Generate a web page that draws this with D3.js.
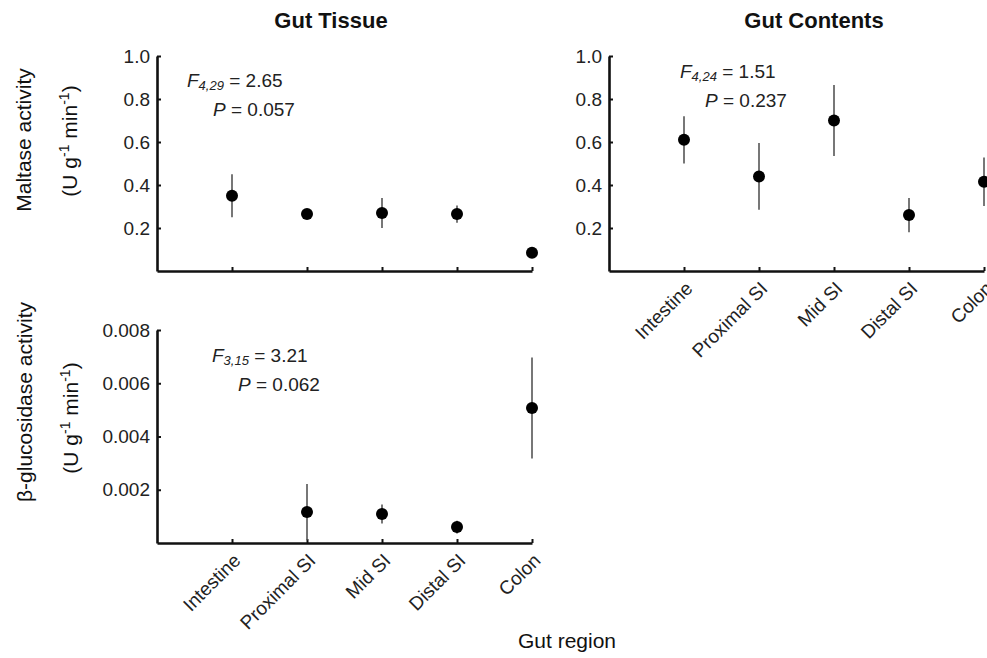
<!DOCTYPE html>
<html>
<head>
<meta charset="utf-8">
<script src="https://cdn.jsdelivr.net/npm/d3@7"></script>
<style>
  html, body { margin: 0; padding: 0; background: #fff; }
  svg { display: block; font-family: "Liberation Sans", Arial, sans-serif; }
</style>
</head>
<body>
<div id="chart"></div>
<script>
// gut regions along the x axis
const regions = ["Intestine", "Proximal SI", "Mid SI", "Distal SI", "Colon"];

// maltase activity (U g-1 min-1), gut tissue
const maltaseTissueMean = [0.35, 0.265, 0.27, 0.265, 0.085];
const maltaseTissueErr  = [0.10, 0.01, 0.07, 0.04, 0.0];

// maltase activity, gut contents
const maltaseContentsMean = [0.61, 0.44, 0.70, 0.26, 0.415];
const maltaseContentsErr  = [0.11, 0.155, 0.165, 0.08, 0.113];

// beta-glucosidase activity, gut tissue (no value for intestine)
const glucTissueMean = [null, 0.00116, 0.00109, 0.0006, 0.00507];
const glucTissueErr  = [null, 0.00106, 0.00036, 0.00024, 0.0019];

const maltaseTicks = [0.2, 0.4, 0.6, 0.8, 1.0];
const glucTicks = [0.002, 0.004, 0.006, 0.008];

const width = 987, height = 658;
const svg = d3.select("#chart").append("svg")
  .attr("width", width).attr("height", height);

const panels = [
  { left: 157, right: 532, top: 56, bottom: 271, ymax: 1.0, ticks: maltaseTicks, fmt: d3.format(".1f"),
    mean: maltaseTissueMean, err: maltaseTissueErr, catLabels: false,
    stat: { x: 187, y: 87, sub: "4,29", f: "2.65", p: "0.057", px: 213 } },
  { left: 609, right: 984, top: 56, bottom: 271, ymax: 1.0, ticks: maltaseTicks, fmt: d3.format(".1f"),
    mean: maltaseContentsMean, err: maltaseContentsErr, catLabels: true,
    stat: { x: 680, y: 78, sub: "4,24", f: "1.51", p: "0.237", px: 705 } },
  { left: 157, right: 532, top: 330, bottom: 543, ymax: 0.008, ticks: glucTicks, fmt: d3.format(".3f"),
    mean: glucTissueMean, err: glucTissueErr, catLabels: true,
    stat: { x: 212, y: 362, sub: "3,15", f: "3.21", p: "0.062", px: 238 } }
];

panels.forEach(p => {
  const x = d3.scaleLinear().domain([0, regions.length]).range([p.left, p.right]);
  const y = d3.scaleLinear().domain([0, p.ymax]).range([p.bottom, p.top]);
  const g = svg.append("g");

  const yAxis = g.append("g")
    .attr("transform", `translate(${p.left},0)`)
    .call(d3.axisLeft(y).tickValues(p.ticks).tickFormat(p.fmt).tickSize(-4).tickSizeOuter(0).tickPadding(7));
  const xAxis = g.append("g")
    .attr("transform", `translate(0,${p.bottom})`)
    .call(d3.axisBottom(x).tickValues(d3.range(1, regions.length + 1)).tickFormat("").tickSize(-4).tickSizeOuter(0));

  [yAxis, xAxis].forEach(a => {
    a.select(".domain").attr("stroke", "#111").attr("stroke-width", 2.6);
    a.selectAll(".tick line").attr("stroke", "#111").attr("stroke-width", 2);
  });
  yAxis.selectAll(".tick text")
    .attr("fill", "#222").attr("font-size", 19).attr("font-family", "Liberation Sans, Arial, sans-serif");

  if (p.catLabels) {
    g.selectAll(".cat").data(regions).enter().append("text")
      .attr("class", "cat")
      .attr("transform", (d, i) => `translate(${x(i + 1) + 5},${p.bottom + 14}) rotate(-45)`)
      .attr("text-anchor", "end")
      .attr("dy", "0.35em")
      .attr("font-size", 19)
      .attr("fill", "#222")
      .text(d => d);
  }

  const pts = p.mean.map((m, i) => ({ m, e: p.err[i], i })).filter(d => d.m !== null);

  g.selectAll(".err").data(pts).enter().append("line")
    .attr("x1", d => x(d.i + 1)).attr("x2", d => x(d.i + 1))
    .attr("y1", d => y(Math.max(0, d.m - d.e))).attr("y2", d => y(d.m + d.e))
    .attr("stroke", "#555").attr("stroke-width", 1.6);

  g.selectAll(".dot").data(pts).enter().append("circle")
    .attr("cx", d => x(d.i + 1)).attr("cy", d => y(d.m))
    .attr("r", 6).attr("fill", "#000");

  const s = p.stat;
  const t1 = g.append("text").attr("x", s.x).attr("y", s.y).attr("font-size", 19).attr("fill", "#222");
  t1.append("tspan").attr("font-style", "italic").text("F");
  t1.append("tspan").attr("font-style", "italic").attr("font-size", 13).attr("dy", 3).text(s.sub);
  t1.append("tspan").attr("dy", -3).text(" = " + s.f);
  const t2 = g.append("text").attr("x", s.px).attr("y", s.y + 29).attr("font-size", 19).attr("fill", "#222");
  t2.append("tspan").attr("font-style", "italic").text("P");
  t2.append("tspan").text(" = " + s.p);
});

// panel titles
svg.append("text").attr("x", 331).attr("y", 28).attr("text-anchor", "middle")
  .attr("font-size", 22).attr("font-weight", "bold").attr("fill", "#111").text("Gut Tissue");
svg.append("text").attr("x", 814).attr("y", 28).attr("text-anchor", "middle")
  .attr("font-size", 22).attr("font-weight", "bold").attr("fill", "#111").text("Gut Contents");

// y axis titles
function unitLabel(cx, cy) {
  const t = svg.append("text")
    .attr("transform", `translate(${cx},${cy}) rotate(-90)`)
    .attr("text-anchor", "middle").attr("font-size", 21).attr("fill", "#111");
  t.append("tspan").text("(U g");
  t.append("tspan").attr("font-size", 14).attr("dy", -8).text("-1");
  t.append("tspan").attr("dy", 8).text(" min");
  t.append("tspan").attr("font-size", 14).attr("dy", -8).text("-1");
  t.append("tspan").attr("dy", 8).text(")");
}
svg.append("text").attr("transform", "translate(31,140) rotate(-90)")
  .attr("text-anchor", "middle").attr("font-size", 21).attr("fill", "#111").text("Maltase activity");
unitLabel(77, 141);
svg.append("text").attr("transform", "translate(32,402) rotate(-90)")
  .attr("text-anchor", "middle").attr("font-size", 21).attr("fill", "#111").text("β-glucosidase activity");
unitLabel(78, 418);

// shared x axis title
svg.append("text").attr("x", 567).attr("y", 648).attr("text-anchor", "middle")
  .attr("font-size", 21).attr("fill", "#111").text("Gut region");
</script>
</body>
</html>
